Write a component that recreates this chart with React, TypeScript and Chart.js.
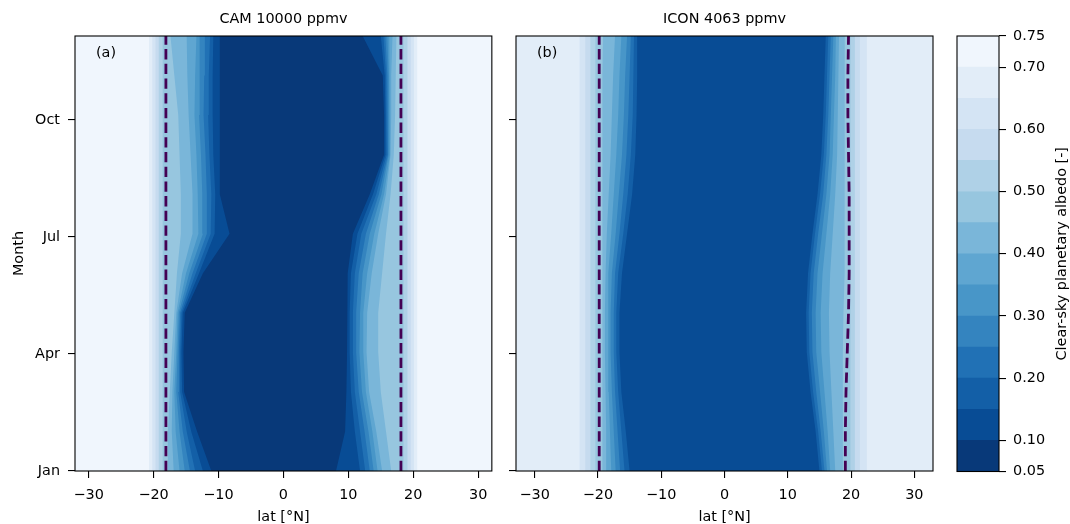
import React, { useEffect, useRef } from 'react';
import { Chart, registerables } from 'chart.js';

Chart.register(...registerables);
Chart.defaults.font.family = 'DejaVu Sans';
Chart.defaults.font.size = 14.4;
Chart.defaults.color = '#000';

// ---------- data ----------
const levels = [0.05, 0.10, 0.15, 0.20, 0.25, 0.30, 0.35, 0.40, 0.45, 0.50, 0.55, 0.60, 0.65, 0.70, 0.75];
const bandColors = ['#083979', '#084c95', '#135fa7', '#2171b5', '#3484bf', '#4896c8', '#5fa6d1',
  '#7ab6d9', '#97c6df', '#afd1e7', '#c6dbef', '#d4e4f4', '#e2edf8', '#f0f6fd'];
const cbTicks = [0.05, 0.10, 0.20, 0.30, 0.40, 0.50, 0.60, 0.70, 0.75];

const rowMonths = [0, 1.014, 2.027, 3.041, 4.055, 5.068, 6.082, 7.095, 8.109, 9.123, 10.136, 11.15];
const monthTickValues = [0, 3, 6, 9];
const monthTickLabels = ['Jan', 'Apr', 'Jul', 'Oct'];
const latTicks = [-30, -20, -10, 0, 10, 20, 30];

const camTitle = 'CAM 10000 ppmv';
const iconTitle = 'ICON 4063 ppmv';
const colorbarLabel = 'Clear-sky planetary albedo [-]';

// CAM: boundaries of the region below each threshold 0.10 ... 0.70 (one list per threshold, one value per row)
const camLeft = [
  [-11.1, -13.3, -15.3, -15.4, -15.2, -12.4, -8.3, -9.8, -9.8, -9.8, -9.8, -9.8],
  [-12.4, -14.2, -15.6, -15.7, -15.5, -13.0, -10.6, -10.5, -10.8, -10.9, -10.9, -10.8],
  [-13.6, -14.9, -15.9, -15.9, -15.7, -13.5, -11.2, -11.1, -11.4, -11.6, -11.5, -11.3],
  [-14.4, -15.5, -16.2, -16.1, -15.9, -14.0, -11.8, -11.8, -12.0, -12.3, -12.2, -12.1],
  [-15.2, -16.0, -16.5, -16.3, -16.1, -14.5, -12.4, -12.5, -12.7, -13.0, -12.9, -12.9],
  [-16.0, -16.6, -16.8, -16.5, -16.3, -15.0, -13.1, -13.2, -13.4, -13.7, -13.6, -13.4],
  [-16.9, -17.2, -17.1, -16.8, -16.5, -15.6, -14.0, -14.0, -14.3, -14.6, -14.8, -14.9],
  [-17.9, -17.8, -17.5, -17.2, -16.8, -16.4, -15.8, -15.8, -16.0, -16.2, -16.8, -17.4],
  [-18.6, -18.6, -18.6, -18.6, -18.6, -18.6, -18.6, -18.6, -18.6, -18.6, -18.6, -18.6],
  [-19.2, -19.2, -19.2, -19.2, -19.2, -19.2, -19.2, -19.2, -19.2, -19.2, -19.2, -19.2],
  [-19.7, -19.7, -19.7, -19.7, -19.7, -19.7, -19.7, -19.7, -19.7, -19.7, -19.7, -19.7],
  [-20.2, -20.2, -20.2, -20.2, -20.2, -20.2, -20.2, -20.2, -20.2, -20.2, -20.2, -20.2],
  [-20.7, -20.7, -20.7, -20.7, -20.7, -20.7, -20.7, -20.7, -20.7, -20.7, -20.7, -20.7],
];
const camRight = [
  [8.1, 9.5, 9.7, 9.8, 9.8, 9.9, 10.7, 13.3, 15.5, 15.5, 15.3, 12.2],
  [11.8, 11.0, 10.4, 10.2, 10.2, 10.4, 11.4, 13.8, 15.7, 15.7, 15.6, 15.0],
  [12.6, 11.8, 11.0, 10.7, 10.7, 11.0, 12.0, 14.3, 15.9, 15.9, 15.8, 15.4],
  [13.3, 12.5, 11.6, 11.2, 11.2, 11.6, 12.7, 14.7, 16.1, 16.1, 16.0, 15.7],
  [13.9, 13.1, 12.1, 11.7, 11.8, 12.2, 13.3, 15.1, 16.2, 16.2, 16.2, 16.0],
  [14.5, 13.7, 12.7, 12.3, 12.3, 12.9, 14.0, 15.5, 16.4, 16.4, 16.4, 16.3],
  [15.2, 14.3, 13.2, 12.8, 12.9, 13.6, 14.6, 15.8, 16.5, 16.6, 16.6, 16.8],
  [16.6, 15.8, 15.0, 14.6, 14.6, 15.2, 15.8, 16.5, 17.0, 17.2, 17.3, 17.4],
  [18.5, 18.5, 18.5, 18.5, 18.5, 18.5, 18.5, 18.5, 18.5, 18.5, 18.5, 18.5],
  [19.1, 19.1, 19.1, 19.1, 19.1, 19.1, 19.1, 19.1, 19.1, 19.1, 19.1, 19.1],
  [19.6, 19.6, 19.6, 19.6, 19.6, 19.6, 19.6, 19.6, 19.6, 19.6, 19.6, 19.6],
  [20.1, 20.1, 20.1, 20.1, 20.1, 20.1, 20.1, 20.1, 20.1, 20.1, 20.1, 20.1],
  [20.6, 20.6, 20.6, 20.6, 20.6, 20.6, 20.6, 20.6, 20.6, 20.6, 20.6, 20.6],
];
const camDashLeft = [-18.1, -18.1, -18.1, -18.1, -18.1, -18.1, -18.1, -18.1, -18.1, -18.1, -18.1, -18.1];
const camDashRight = [18.1, 18.1, 18.1, 18.1, 18.1, 18.1, 18.1, 18.1, 18.1, 18.1, 18.1, 18.1];

// ICON: thresholds 0.15 ... 0.65
const iconLeft = [
  [-15.0, -15.6, -16.3, -16.6, -16.6, -16.2, -15.4, -14.6, -14.1, -13.9, -13.8, -13.8],
  [-15.8, -16.3, -16.8, -17.1, -17.1, -16.8, -16.0, -15.3, -14.8, -14.5, -14.4, -14.3],
  [-16.5, -16.9, -17.3, -17.5, -17.5, -17.3, -16.6, -16.0, -15.5, -15.2, -15.0, -14.8],
  [-17.2, -17.5, -17.8, -18.0, -18.0, -17.8, -17.2, -16.7, -16.2, -15.9, -15.7, -15.4],
  [-17.9, -18.1, -18.3, -18.4, -18.4, -18.3, -17.9, -17.5, -17.1, -16.8, -16.6, -16.3],
  [-18.6, -18.7, -18.8, -18.9, -18.9, -18.8, -18.6, -18.3, -18.0, -17.8, -17.6, -17.3],
  [-19.3, -19.3, -19.3, -19.3, -19.3, -19.3, -19.3, -19.3, -19.3, -19.3, -19.3, -19.2],
  [-20.4, -20.4, -20.4, -20.4, -20.4, -20.4, -20.4, -20.4, -20.4, -20.4, -20.4, -20.4],
  [-21.2, -21.2, -21.2, -21.2, -21.2, -21.2, -21.2, -21.2, -21.2, -21.2, -21.2, -21.2],
  [-22.0, -22.0, -22.0, -22.0, -22.0, -22.0, -22.0, -22.0, -22.0, -22.0, -22.0, -22.0],
  [-22.9, -22.9, -22.9, -22.9, -22.9, -22.9, -22.9, -22.9, -22.9, -22.9, -22.9, -22.9],
];
const iconRight = [
  [15.0, 14.4, 13.6, 13.0, 12.9, 13.2, 13.9, 14.7, 15.3, 15.6, 15.8, 16.0],
  [15.4, 14.8, 14.0, 13.4, 13.3, 13.6, 14.3, 15.1, 15.7, 16.0, 16.2, 16.4],
  [15.8, 15.2, 14.5, 13.9, 13.8, 14.1, 14.8, 15.6, 16.1, 16.4, 16.6, 16.8],
  [16.2, 15.7, 15.1, 14.5, 14.4, 14.7, 15.4, 16.1, 16.6, 16.8, 17.0, 17.2],
  [16.7, 16.3, 15.8, 15.3, 15.2, 15.5, 16.1, 16.7, 17.1, 17.3, 17.5, 17.6],
  [17.5, 17.2, 16.9, 16.6, 16.5, 16.7, 17.1, 17.5, 17.8, 17.9, 18.0, 18.1],
  [18.7, 18.7, 18.7, 18.7, 18.8, 18.9, 19.0, 19.0, 19.0, 19.0, 19.0, 19.0],
  [19.9, 19.9, 19.9, 19.9, 19.9, 19.9, 19.9, 19.9, 19.9, 19.9, 19.9, 19.9],
  [20.6, 20.6, 20.6, 20.6, 20.6, 20.6, 20.6, 20.6, 20.6, 20.6, 20.6, 20.6],
  [21.4, 21.4, 21.4, 21.4, 21.4, 21.4, 21.4, 21.4, 21.4, 21.4, 21.4, 21.4],
  [22.5, 22.5, 22.5, 22.5, 22.5, 22.5, 22.5, 22.5, 22.5, 22.5, 22.5, 22.5],
];
const iconDashLeft = [-19.8, -19.8, -19.8, -19.8, -19.8, -19.8, -19.8, -19.8, -19.8, -19.8, -19.8, -19.8];
const iconDashRight = [19.1, 19.1, 19.2, 19.4, 19.6, 19.7, 19.7, 19.7, 19.6, 19.5, 19.5, 19.6];

// ---------- styling ----------
const FS = 14.4;
const BLACK = '#000';
const AXIS_LW = 1.1;
const DASH_COLOR = '#440154';

const fmtLat = (v: number) => (v < 0 ? '\u2212' + Math.abs(v) : String(v));

const framePlugin = {
  id: 'frame',
  afterDatasetsDraw(chart: any) {
    const { ctx, chartArea: a } = chart;
    ctx.save();
    ctx.strokeStyle = BLACK;
    ctx.lineWidth = AXIS_LW;
    ctx.strokeRect(a.left, a.top, a.right - a.left, a.bottom - a.top);
    ctx.restore();
  },
};

function bgPlugin(color: string) {
  return {
    id: 'bg',
    beforeDatasetsDraw(chart: any) {
      const { ctx, chartArea: a } = chart;
      ctx.save();
      ctx.fillStyle = color;
      ctx.fillRect(a.left, a.top, a.right - a.left, a.bottom - a.top);
      ctx.restore();
    },
  };
}

function tagPlugin(tag: string) {
  return {
    id: 'tag',
    afterDatasetsDraw(chart: any) {
      const { ctx, chartArea: a } = chart;
      ctx.save();
      ctx.font = `${FS}px "DejaVu Sans"`;
      ctx.fillStyle = BLACK;
      ctx.textAlign = 'left';
      ctx.textBaseline = 'middle';
      ctx.fillText(tag, a.left + 21, a.top + 17);
      ctx.restore();
    },
  };
}

const cbLabelPlugin = {
  id: 'cbLabel',
  afterDraw(chart: any) {
    const { ctx, chartArea: a } = chart;
    ctx.save();
    ctx.translate(122, (a.top + a.bottom) / 2);
    ctx.rotate(-Math.PI / 2);
    ctx.font = `${FS}px "DejaVu Sans"`;
    ctx.fillStyle = BLACK;
    ctx.textAlign = 'center';
    ctx.textBaseline = 'middle';
    ctx.fillText(colorbarLabel, 0, 0);
    ctx.restore();
  },
};

type PanelProps = {
  left: number;
  width: number;
  xMin: number;
  xMax: number;
  leftB: number[][];
  rightB: number[][];
  firstLevel: number; // index in levels of first threshold
  outerColor: string;
  dashL: number[];
  dashR: number[];
  title: string;
  tag: string;
  showYLabels: boolean;
  yAxisWidth: number;
};

function ContourPanel(p: PanelProps) {
  const ref = useRef<HTMLCanvasElement>(null);
  useEffect(() => {
    if (!ref.current) return;
    const lineBase = { pointRadius: 0, pointHoverRadius: 0, tension: 0, xAxisID: 'x', yAxisID: 'y' };
    const datasets: any[] = [];
    const dashStyle = { borderColor: DASH_COLOR, borderWidth: 2.8, borderDash: [10.3, 4.4], fill: false };
    datasets.push({ ...lineBase, ...dashStyle, data: rowMonths.map((m, i) => ({ x: p.dashL[i], y: m })) });
    datasets.push({ ...lineBase, ...dashStyle, data: rowMonths.map((m, i) => ({ x: p.dashR[i], y: m })) });
    p.leftB.forEach((arr, k) => {
      const color = bandColors[p.firstLevel + k - 1];
      datasets.push({
        ...lineBase,
        data: rowMonths.map((m, i) => ({ x: arr[i], y: m })),
        borderWidth: 0,
        borderColor: 'rgba(0,0,0,0)',
        backgroundColor: color,
        fill: '+1',
      });
      datasets.push({
        ...lineBase,
        data: rowMonths.map((m, i) => ({ x: p.rightB[k][i], y: m })),
        borderWidth: 0,
        borderColor: 'rgba(0,0,0,0)',
        fill: false,
      });
    });

    const tickGrid = { drawOnChartArea: false, drawTicks: true, tickLength: 7, color: BLACK, lineWidth: AXIS_LW };

    const chart = new Chart(ref.current, {
      type: 'line',
      data: { datasets },
      options: {
        responsive: false,
        animation: false,
        indexAxis: 'y',
        events: [],
        layout: { padding: { right: 3, left: 0, top: 0, bottom: 0 } },
        plugins: {
          legend: { display: false },
          tooltip: { enabled: false },
          filler: { propagate: false },
        },
        scales: {
          x: {
            type: 'linear',
            position: 'bottom',
            min: p.xMin,
            max: p.xMax,
            afterBuildTicks: (s: any) => { s.ticks = latTicks.map((v) => ({ value: v })); },
            afterFit: (s: any) => { s.height = 53; },
            ticks: { padding: 8.5, color: BLACK, maxRotation: 0, autoSkip: false, callback: (v: any) => fmtLat(Number(v)) },
            grid: tickGrid,
            border: { display: false },
            title: { display: true, text: 'lat [°N]', color: BLACK, padding: { top: 0, bottom: 0 }, font: { size: FS, lineHeight: 1 } },
          },
          xTop: {
            type: 'linear',
            axis: 'x',
            position: 'top',
            min: p.xMin,
            max: p.xMax,
            afterFit: (s: any) => { s.height = 36; },
            ticks: { display: false },
            grid: { display: false },
            border: { display: false },
            title: { display: true, text: p.title, color: BLACK, padding: { top: 12, bottom: 0 }, font: { size: FS, lineHeight: 1 } },
          },
          y: {
            type: 'linear',
            position: 'left',
            min: 0,
            max: 11.15,
            afterBuildTicks: (s: any) => { s.ticks = monthTickValues.map((v) => ({ value: v })); },
            afterFit: (s: any) => { s.width = p.yAxisWidth; },
            ticks: { padding: 8, color: BLACK, autoSkip: false, callback: (_v: any, i: number) => (p.showYLabels ? monthTickLabels[i] : '') },
            grid: tickGrid,
            border: { display: false },
            title: p.showYLabels
              ? { display: true, text: 'Month', color: BLACK, padding: { top: 12.5, bottom: 0 }, font: { size: FS, lineHeight: 1 } }
              : { display: false },
          },
        },
      } as any,
      plugins: [bgPlugin(p.outerColor), framePlugin, tagPlugin(p.tag)],
    });
    return () => chart.destroy();
  }, []);
  return (
    <canvas
      ref={ref}
      width={p.width}
      height={524}
      style={{ position: 'absolute', left: p.left, top: 0, width: p.width, height: 524 }}
    />
  );
}

function Colorbar() {
  const ref = useRef<HTMLCanvasElement>(null);
  useEffect(() => {
    if (!ref.current) return;
    const chart = new Chart(ref.current, {
      type: 'bar',
      data: {
        labels: [''],
        datasets: bandColors.map((c, i) => ({
          data: [[levels[i], levels[i + 1]]],
          backgroundColor: c,
          borderWidth: 0,
          grouped: false,
          barPercentage: 1,
          categoryPercentage: 1,
        })),
      },
      options: {
        responsive: false,
        animation: false,
        events: [],
        layout: { padding: { left: 17, top: 36, bottom: 52.5, right: 0 } },
        plugins: { legend: { display: false }, tooltip: { enabled: false } },
        scales: {
          x: { display: false },
          y: {
            type: 'linear',
            position: 'right',
            min: 0.05,
            max: 0.75,
            afterBuildTicks: (s: any) => { s.ticks = cbTicks.map((v) => ({ value: v })); },
            afterFit: (s: any) => { s.width = 71; },
            ticks: { padding: 7, color: BLACK, autoSkip: false, callback: (v: any) => Number(v).toFixed(2) },
            grid: { drawOnChartArea: false, drawTicks: true, tickLength: 7, color: BLACK, lineWidth: AXIS_LW },
            border: { display: false },
          },
        },
      } as any,
      plugins: [framePlugin, cbLabelPlugin],
    });
    return () => chart.destroy();
  }, []);
  return (
    <canvas
      ref={ref}
      width={130}
      height={524}
      style={{ position: 'absolute', left: 940, top: 0, width: 130, height: 524 }}
    />
  );
}

export default function App() {
  return (
    <div style={{ position: 'fixed', left: 0, top: 0, width: 1070, height: 524, background: '#fff', overflow: 'hidden' }}>
      <ContourPanel
        left={0}
        width={496}
        xMin={-32.1}
        xMax={32.1}
        leftB={camLeft}
        rightB={camRight}
        firstLevel={1}
        outerColor={bandColors[13]}
        dashL={camDashLeft}
        dashR={camDashRight}
        title={camTitle}
        tag="(a)"
        showYLabels={true}
        yAxisWidth={75}
      />
      <ContourPanel
        left={496}
        width={440}
        xMin={-32.95}
        xMax={32.95}
        leftB={iconLeft}
        rightB={iconRight}
        firstLevel={2}
        outerColor={bandColors[12]}
        dashL={iconDashLeft}
        dashR={iconDashRight}
        title={iconTitle}
        tag="(b)"
        showYLabels={false}
        yAxisWidth={20}
      />
      <Colorbar />
    </div>
  );
}
